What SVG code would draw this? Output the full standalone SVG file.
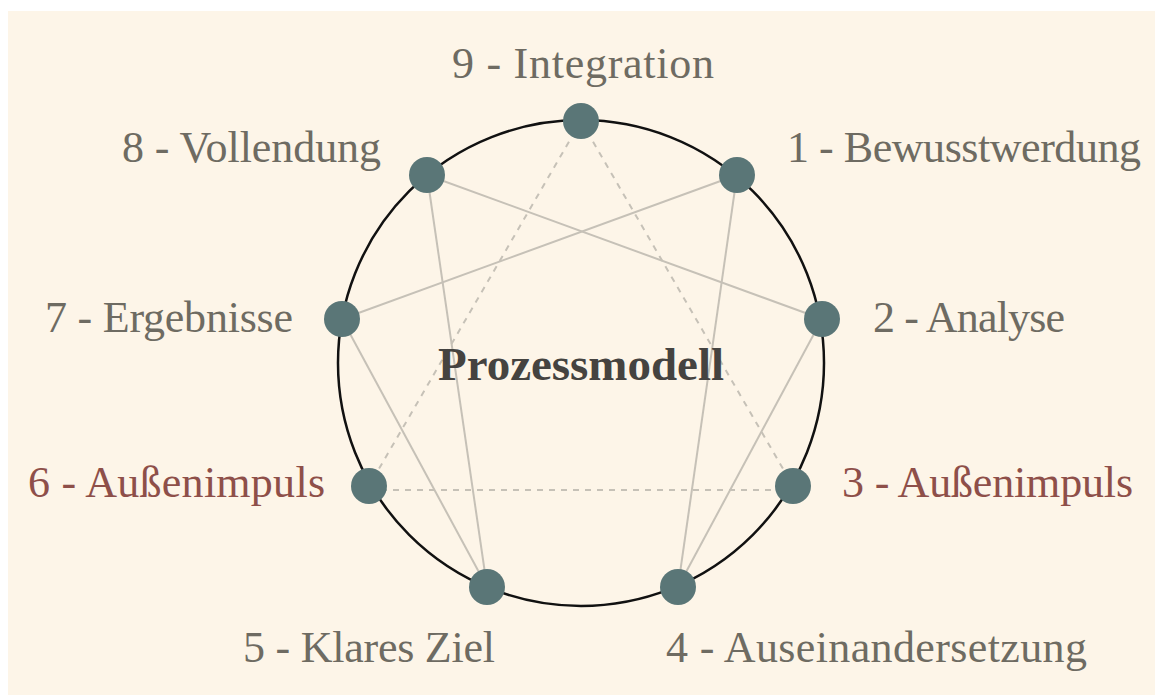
<svg xmlns="http://www.w3.org/2000/svg" width="1155" height="695" viewBox="0 0 1155 695">
<style>
.lbl{font-family:"Liberation Serif","DejaVu Serif",serif;font-size:44px;fill:#6e6b62}
.red{fill:#8e4f49}
.title{font-family:"Liberation Serif","DejaVu Serif",serif;font-size:46px;font-weight:bold;fill:#454340}
.solid{stroke:#c6c1b7;stroke-width:2;fill:none}
.dash{stroke:#c6c1b7;stroke-width:2;stroke-dasharray:6 6;fill:none}
.node{fill:#5a7677}
</style>
<rect x="0" y="0" width="1155" height="695" fill="#ffffff"/>
<rect x="8" y="11" width="1147" height="684" fill="#fdf5e8"/>
<circle cx="581" cy="363" r="243" fill="none" stroke="#111" stroke-width="2.5"/>
<g id="connectors">
<line class="solid" x1="737" y1="175" x2="678" y2="587"/>
<line class="solid" x1="822" y1="319" x2="678" y2="587"/>
<line class="solid" x1="427" y1="175" x2="822" y2="319"/>
<line class="solid" x1="427" y1="175" x2="487" y2="587"/>
<line class="solid" x1="342" y1="319" x2="487" y2="587"/>
<line class="solid" x1="342" y1="319" x2="737" y2="175"/>
<line class="dash" x1="581" y1="121" x2="793" y2="486"/>
<line class="dash" x1="581" y1="121" x2="369" y2="486"/>
<line class="dash" x1="369" y1="490" x2="793" y2="490"/>
</g>
<text class="title" x="438" y="380" textLength="286" lengthAdjust="spacingAndGlyphs">Prozessmodell</text>
<g id="n9"><circle class="node" cx="581" cy="121" r="18"/><text class="lbl" x="452" y="78" textLength="262">9 - Integration</text></g>
<g id="n1"><circle class="node" cx="737" cy="175" r="18"/><text class="lbl" x="787" y="162" textLength="354">1 - Bewusstwerdung</text></g>
<g id="n2"><circle class="node" cx="822" cy="319" r="18"/><text class="lbl" x="873" y="332" textLength="192">2 - Analyse</text></g>
<g id="n3"><circle class="node" cx="793" cy="486" r="18"/><text class="lbl red" x="842" y="497" textLength="291">3 - Außenimpuls</text></g>
<g id="n4"><circle class="node" cx="678" cy="587" r="18"/><text class="lbl" x="666" y="662" textLength="421">4 - Auseinandersetzung</text></g>
<g id="n5"><circle class="node" cx="487" cy="587" r="18"/><text class="lbl" x="243" y="662" textLength="252">5 - Klares Ziel</text></g>
<g id="n6"><circle class="node" cx="369" cy="486" r="18"/><text class="lbl red" x="28" y="497" textLength="297">6 - Außenimpuls</text></g>
<g id="n7"><circle class="node" cx="342" cy="319" r="18"/><text class="lbl" x="45" y="332" textLength="248">7 - Ergebnisse</text></g>
<g id="n8"><circle class="node" cx="427" cy="175" r="18"/><text class="lbl" x="122" y="162" textLength="259">8 - Vollendung</text></g>
</svg>
